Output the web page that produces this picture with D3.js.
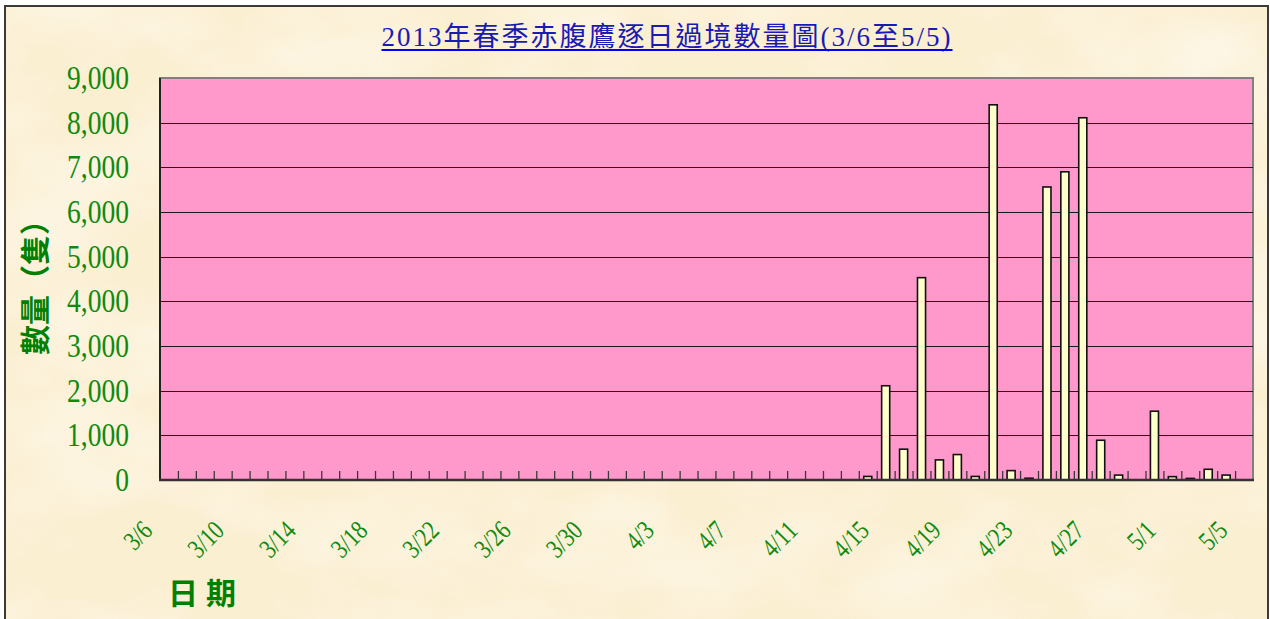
<!DOCTYPE html>
<html>
<head>
<meta charset="utf-8">
<script src="https://cdn.jsdelivr.net/npm/d3@7"></script>
<style>
  html, body { margin: 0; padding: 0; background: #fff; }
  svg { display: block; }
</style>
</head>
<body>
<div id="chart"></div>
<script>
// daily counts 3/6 .. 5/5
var dates = [
  "3/6","3/7","3/8","3/9","3/10","3/11","3/12","3/13","3/14","3/15",
  "3/16","3/17","3/18","3/19","3/20","3/21","3/22","3/23","3/24","3/25",
  "3/26","3/27","3/28","3/29","3/30","3/31","4/1","4/2","4/3","4/4",
  "4/5","4/6","4/7","4/8","4/9","4/10","4/11","4/12","4/13","4/14",
  "4/15","4/16","4/17","4/18","4/19","4/20","4/21","4/22","4/23","4/24",
  "4/25","4/26","4/27","4/28","4/29","4/30","5/1","5/2","5/3","5/4","5/5"
];
var counts = [
  0,0,0,0,0,0,0,0,0,0,
  0,0,0,0,0,0,0,0,0,0,
  0,0,0,0,0,0,0,0,0,0,
  0,0,0,0,0,0,0,0,0,80,
  2110,690,4530,450,570,80,8400,210,40,6560,
  6900,8110,890,110,0,1540,75,35,240,110,0
];
var yTicks = [0,1000,2000,3000,4000,5000,6000,7000,8000,9000];
var labelEvery = 4;

var title = "2013年春季赤腹鷹逐日過境數量圖(3/6至5/5)";
var yTitle = "數量（隻）";
var xTitle = "日期";

(function(){
    var W = 1270, H = 619;
    var pLeft = 160, pRight = 1253, pTop = 78, pBottom = 480;
    var green = "#0f8a0f";

    var svg = d3.select("#chart").append("svg")
        .attr("width", W)
        .attr("height", H);

    // paper texture
    var defs = svg.append("defs");
    var f = defs.append("filter").attr("id", "paper")
        .attr("x", 0).attr("y", 0).attr("width", 1).attr("height", 1);
    f.append("feTurbulence")
        .attr("type", "fractalNoise")
        .attr("baseFrequency", "0.006 0.01")
        .attr("numOctaves", 4)
        .attr("seed", 7);
    f.append("feColorMatrix")
        .attr("type", "matrix")
        .attr("values", "0 0 0 0 1  0 0 0 0 0.975  0 0 0 0 0.92  1.8 0 0 0 -0.75");

    svg.append("rect")
        .attr("x", 5).attr("y", 6)
        .attr("width", 1263).attr("height", 640)
        .attr("fill", "#fbefd2")
        .attr("stroke", "#3a3a3a")
        .attr("stroke-width", 2);
    svg.append("rect")
        .attr("x", 6).attr("y", 7)
        .attr("width", 1261).attr("height", 620)
        .attr("filter", "url(#paper)")
        .attr("opacity", 0.7);

    // scales
    var x = d3.scaleBand()
        .domain(dates)
        .range([pLeft, pRight])
        .paddingInner(0.55)
        .paddingOuter(0.275);

    var xi = d3.scaleLinear().domain([0, dates.length]).range([pLeft, pRight]);

    var y = d3.scaleLinear().domain([0, 9000]).range([pBottom, pTop]);

    // plot area
    svg.append("rect")
        .attr("x", pLeft).attr("y", pTop)
        .attr("width", pRight - pLeft).attr("height", pBottom - pTop)
        .attr("fill", "#ff99cc")
        .attr("stroke", "#808080")
        .attr("stroke-width", 2);

    svg.append("g")
        .selectAll("line")
        .data(yTicks.filter(function(d){ return d > 0 && d < 9000; }))
        .enter().append("line")
        .attr("x1", pLeft).attr("x2", pRight)
        .attr("y1", function(d){ return Math.round(y(d)) + 0.5; })
        .attr("y2", function(d){ return Math.round(y(d)) + 0.5; })
        .attr("stroke", "#1a1a1a")
        .attr("stroke-width", 1);

    // inside ticks at category edges
    var tickAxis = d3.axisBottom(xi)
        .tickValues(d3.range(1, dates.length))
        .tickSize(-9)
        .tickFormat("");
    var tg = svg.append("g")
        .attr("transform", "translate(0," + pBottom + ")")
        .call(tickAxis);
    tg.select(".domain").remove();
    tg.selectAll("line").attr("stroke", "#3a3a3a").attr("stroke-width", 1.3);

    // bars
    svg.append("g")
        .selectAll("rect")
        .data(dates.map(function(d, i){ return {date: d, v: counts[i]}; })
            .filter(function(d){ return d.v > 0; }))
        .enter().append("rect")
        .attr("x", function(d){ return x(d.date); })
        .attr("y", function(d){ return y(d.v); })
        .attr("width", x.bandwidth())
        .attr("height", function(d){ return pBottom - y(d.v); })
        .attr("fill", "#ffffcc")
        .attr("stroke", "#111")
        .attr("stroke-width", 1.6);

    // axis lines
    svg.append("line")
        .attr("x1", pLeft).attr("x2", pLeft)
        .attr("y1", pTop).attr("y2", pBottom)
        .attr("stroke", "#222").attr("stroke-width", 2);
    svg.append("line")
        .attr("x1", pLeft - 1).attr("x2", pRight + 1)
        .attr("y1", pBottom).attr("y2", pBottom)
        .attr("stroke", "#333").attr("stroke-width", 2.5);

    // y tick labels
    svg.append("g")
        .selectAll("text")
        .data(yTicks)
        .enter().append("text")
        .attr("transform", function(d){
            return "translate(129," + (y(d) + 11) + ") scale(0.86,1.05)";
        })
        .attr("text-anchor", "end")
        .attr("font-family", "'Liberation Serif', serif")
        .attr("font-size", 32)
        .attr("fill", green)
        .text(d3.format(","));

    // x labels
    svg.append("g")
        .selectAll("text")
        .data(dates.filter(function(d, i){ return i % labelEvery === 0; }))
        .enter().append("text")
        .attr("transform", function(d){
            return "translate(" + (x(d) - x.step() * x.paddingInner() / 2 - 6) + ",532) rotate(-45) scale(0.8,1)";
        })
        .attr("text-anchor", "end")
        .attr("font-family", "'Liberation Serif', serif")
        .attr("font-size", 27)
        .attr("fill", green)
        .text(function(d){ return d; });

    // titles
    var t = svg.append("text")
        .attr("x", 667).attr("y", 46)
        .attr("text-anchor", "middle")
        .attr("font-family", "'Liberation Serif', 'Noto Sans CJK TC', serif")
        .attr("font-size", 27)
        .attr("letter-spacing", 2)
        .attr("fill", "#1a1ab4")
        .text(title);
    var tw = t.node().getComputedTextLength();
    svg.append("line")
        .attr("x1", 667 - tw / 2).attr("x2", 667 + tw / 2)
        .attr("y1", 50).attr("y2", 50)
        .attr("stroke", "#0000ff").attr("stroke-width", 2);

    svg.append("text")
        .attr("transform", "translate(46,280) rotate(-90)")
        .attr("text-anchor", "middle")
        .attr("font-family", "'Noto Sans CJK TC', sans-serif")
        .attr("font-weight", "bold")
        .attr("font-size", 30)
        .attr("fill", "#008000")
        .text(yTitle);

    svg.append("text")
        .attr("x", 168).attr("y", 604)
        .attr("font-family", "'Noto Sans CJK TC', sans-serif")
        .attr("font-weight", "bold")
        .attr("font-size", 30)
        .attr("letter-spacing", 8)
        .attr("fill", "#008000")
        .text(xTitle);
})();
</script>
</body>
</html>
